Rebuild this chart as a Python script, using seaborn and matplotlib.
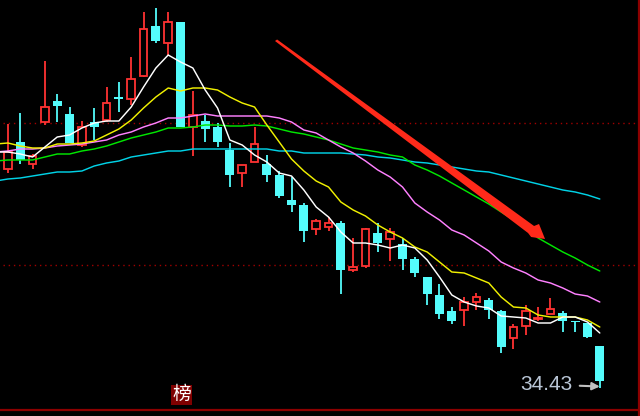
import matplotlib
matplotlib.use("Agg")
import matplotlib.pyplot as plt
import numpy as np
import pandas as pd
import seaborn as sns

# candles, one per trading day
opens = [56.2, 58.9, 56.7, 60.9, 63.0, 61.7, 58.6, 60.9, 61.1, 63.4, 63.2, 65.5, 70.5, 68.8, 70.9, 60.4, 61.0,
         60.4, 58.1, 55.8, 56.9, 56.7, 55.6, 53.1, 52.6, 50.2, 50.4, 50.8, 46.1, 46.5, 49.8, 49.2, 48.7, 47.2,
         45.4, 43.6, 42.0, 42.1, 42.9, 43.1, 42.0, 39.3, 40.5, 41.2, 41.7, 41.8, 41.0, 40.8, 38.5]
closes = [57.9, 57.1, 57.5, 62.4, 62.5, 58.8, 60.4, 60.4, 62.8, 63.2, 65.2, 70.2, 69.0, 70.9, 60.4, 61.6, 60.2,
          58.9, 55.6, 56.6, 58.7, 55.6, 53.5, 52.6, 50.0, 51.0, 50.8, 46.1, 46.4, 50.2, 48.8, 49.9, 47.2, 45.8,
          43.7, 41.7, 41.0, 42.9, 43.4, 42.1, 38.4, 40.4, 42.0, 41.3, 42.2, 41.0, 40.9, 39.4, 35.0]
highs = [60.7, 61.8, 57.7, 67.0, 63.7, 62.4, 61.0, 62.3, 64.4, 64.9, 67.4, 71.9, 72.3, 71.9, 70.9, 64.0, 61.6,
         60.8, 58.8, 56.6, 60.4, 57.6, 56.0, 55.4, 52.8, 51.2, 51.4, 51.0, 49.3, 50.3, 50.8, 50.3, 49.3, 47.4,
         45.4, 44.7, 42.4, 43.4, 43.8, 43.3, 42.1, 40.7, 42.6, 42.4, 43.3, 42.0, 41.0, 40.8, 38.5]
lows = [55.8, 56.7, 56.2, 60.6, 60.9, 58.8, 58.4, 59.1, 60.9, 61.9, 62.6, 65.4, 68.8, 67.6, 60.4, 57.5, 58.9,
        58.4, 54.4, 54.4, 56.9, 54.9, 53.3, 51.9, 48.9, 49.6, 50.0, 43.7, 45.9, 46.3, 47.9, 47.0, 46.1, 45.4,
        42.6, 41.2, 40.7, 40.5, 42.1, 41.2, 37.8, 38.2, 39.6, 41.0, 41.7, 39.9, 39.9, 39.3, 34.3]

# moving averages, the first value is the day before the window starts
ma5 = [57.9, 57.9, 57.7, 57.4, 58.4, 59.4, 59.6, 60.3, 60.8, 61.0, 61.0, 62.4, 64.4, 66.3, 67.6, 66.9, 66.3, 64.1,
       62.3, 59.1, 58.6, 57.6, 56.9, 55.8, 55.5, 54.1, 52.4, 51.4, 49.9, 48.8, 48.8, 48.6, 48.3, 48.6, 48.3, 47.1,
       45.4, 43.6, 42.9, 42.5, 42.3, 41.5, 41.4, 41.3, 40.8, 40.8, 41.4, 41.4, 40.9, 39.8]
ma10 = [58.7, 58.8, 58.5, 58.3, 58.3, 58.7, 58.7, 58.8, 59.0, 59.6, 60.2, 61.1, 62.3, 63.4, 64.3, 64.0, 64.3, 64.3,
        64.1, 63.4, 62.8, 62.4, 60.6, 58.9, 57.2, 56.0, 55.0, 54.4, 52.9, 52.1, 51.5, 50.6, 49.9, 49.3, 48.4, 47.9,
        46.9, 45.9, 45.8, 45.3, 44.8, 43.4, 42.4, 42.3, 41.6, 41.4, 41.4, 41.4, 41.1, 40.4]
ma20 = [57.9, 58.0, 58.2, 58.2, 58.3, 58.5, 58.6, 58.7, 58.9, 59.1, 59.6, 59.9, 60.4, 60.8, 61.3, 61.3, 61.5, 61.7,
        61.5, 61.5, 61.5, 61.5, 61.5, 61.3, 60.9, 60.1, 59.8, 59.1, 58.4, 57.8, 57.0, 56.1, 55.4, 54.4, 52.8, 51.9,
        51.1, 50.1, 49.6, 48.8, 48.0, 46.9, 46.3, 45.8, 45.1, 44.8, 44.3, 43.7, 43.5, 42.9]
ma30 = [57.0, 57.1, 57.1, 57.1, 57.4, 57.7, 57.7, 58.0, 58.2, 58.5, 58.9, 59.3, 59.6, 59.9, 60.3, 60.3, 60.4, 60.6,
        60.6, 60.5, 60.5, 60.6, 60.5, 60.2, 59.9, 59.7, 59.4, 59.1, 58.7, 58.3, 58.1, 57.9, 57.6, 57.4, 56.6, 56.1,
        55.5, 54.8, 54.1, 53.4, 52.7, 51.9, 51.1, 50.2, 49.3, 48.6, 47.9, 47.3, 46.6, 46.0]
ma60 = [55.0, 55.2, 55.3, 55.5, 55.7, 55.9, 55.9, 56.0, 56.5, 56.8, 57.0, 57.4, 57.6, 57.8, 58.0, 58.0, 58.2, 58.2,
        58.2, 58.2, 58.2, 58.2, 58.2, 58.0, 58.0, 57.8, 57.8, 57.8, 57.8, 57.7, 57.6, 57.4, 57.3, 57.1, 56.9, 56.8,
        56.6, 56.4, 56.2, 56.0, 55.9, 55.6, 55.3, 55.0, 54.7, 54.4, 54.1, 53.9, 53.6, 53.2]

ref_levels = [60.8, 46.6]
last_low_label = "34.43"
badge_label = "榜"

# hand drawn arrow on top of the chart (wedge shape, day / price)
arrow_x = [21.83, 42.67, 43.07, 43.56, 42.43, 42.18, 21.66]
arrow_y = [69.15, 50.5, 50.7, 49.2, 49.4, 49.8, 69.0]

up_color = "#ff3232"
down_color = "#54fcfc"
frame_color = "#a00000"
ma_colors = {"ma60": "#00d2e6", "ma30": "#00e600", "ma20": "#ff80ff", "ma10": "#f0f000", "ma5": "#ffffff"}

sns.set_theme(style="dark", rc={"axes.facecolor": "black", "figure.facecolor": "black"})
plt.rcParams["font.family"] = ["Liberation Sans", "Noto Sans CJK SC", "DejaVu Sans"]

fig = plt.figure(figsize=(6.4, 4.16), dpi=100)
ax = fig.add_axes([0, 0, 1, 1])

days = np.arange(len(opens))
opens_arr = np.array(opens)
closes_arr = np.array(closes)
is_up = closes_arr > opens_arr

# wicks first, bodies sit on top so the red ones look hollow
ax.vlines(days[is_up], np.array(lows)[is_up], np.array(highs)[is_up], color=up_color, lw=1.3, zorder=2)
ax.vlines(days[~is_up], np.array(lows)[~is_up], np.array(highs)[~is_up], color=down_color, lw=1.3, zorder=2)
ax.bar(days[is_up], (closes_arr - opens_arr)[is_up], bottom=opens_arr[is_up], width=0.62,
       facecolor="black", edgecolor=up_color, lw=1.3, zorder=3)
ax.bar(days[~is_up], (opens_arr - closes_arr)[~is_up], bottom=closes_arr[~is_up], width=0.72,
       facecolor=down_color, edgecolor=down_color, lw=0, zorder=3)

ma_df = pd.DataFrame({"day": np.arange(-1, len(opens)), "ma5": ma5, "ma10": ma10,
                      "ma20": ma20, "ma30": ma30, "ma60": ma60})
ma_long = ma_df.melt(id_vars="day", var_name="ma", value_name="price")
sns.lineplot(data=ma_long, x="day", y="price", hue="ma", hue_order=list(ma_colors), palette=ma_colors,
             estimator=None, sort=False, legend=False, lw=1.05, ax=ax, zorder=4)

for level in ref_levels:
    ax.axhline(level, xmin=0.005, xmax=0.992, color=frame_color, lw=1.0, dashes=(1.0, 2.75), zorder=1)

ax.axhline(32.13, color="#8c0000", lw=1.6, zorder=1)
ax.axvline(51.14, color="#8c0000", lw=1.6, zorder=1)

ax.fill(arrow_x, arrow_y, color="#ff2a1a", lw=0, zorder=5)

ax.annotate(last_low_label, xy=(48.0, 34.45), xytext=(41.53, 34.65), color="#b9c6d6", fontsize=15,
            va="center", ha="left", zorder=6,
            arrowprops=dict(arrowstyle="-|>,head_width=0.15,head_length=0.3", color="#c0c0c0", lw=1.5,
                            shrinkA=3, shrinkB=0))
ax.text(14.08, 33.6, badge_label, color="white", fontsize=13.5, ha="center", va="center", zorder=6,
        bbox=dict(boxstyle="square,pad=0.08", facecolor="#7f0000", edgecolor="none"))

ax.set_xlim(-0.641, 51.26)
ax.set_ylim(31.5, 73.1)
ax.axis("off")

fig.savefig("out.png", dpi=100, facecolor="black")
